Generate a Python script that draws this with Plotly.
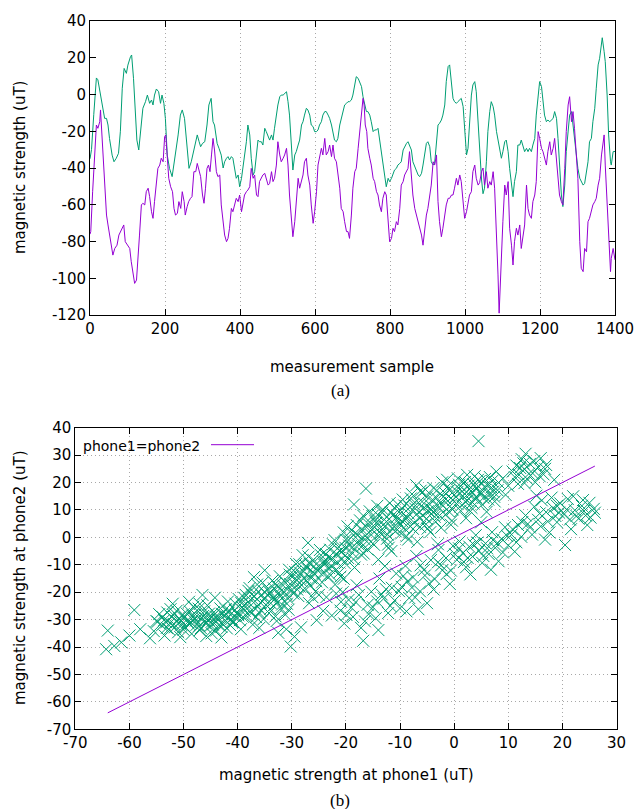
import plotly.graph_objects as go

# ---------------- (a) time series ----------------
green_x = [0,4,10,17,21,26,32,39,44,48,52,59,64,70,76,81,86,91,97,101,108,111,116,121,125,130,135,141,148,153,159,164,168,172,177,183,188,192,197,201,206,212,219,224,230,235,241,246,252,258,264,270,276,281,286,291,295,300,306,312,317,323,328,332,339,344,350,
           355,359,364,368,372,377,381,386,390,395,399,404,408,412,417,421,426,430,435,439,444,448,452,457,461,466,470,475,479,484,488,492,497,501,506,510,515,519,524,528,532,537,541,546,550,555,559,564,568,572,577,581,586,590,595,599,604,608,612,617,621,626,630,635,639,644,648,652,657,661,666,670,675,679,684,688,
           692,697,701,706,710,715,719,724,728,732,737,741,746,750,755,759,764,768,772,777,781,786,790,795,799,804,808,812,817,821,826,830,835,839,844,848,852,857,861,866,870,875,879,884,888,892,897,901,906,910,915,919,924,928,932,937,941,946,950,955,959,964,968,972,977,981,986,990,995,999,1004,1008,1012,1017,1021,1026,1030,1035,1039,1044,1048,
           1052,1057,1061,1066,1070,1075,1079,1084,1088,1092,1097,1101,1106,1110,1115,1119,1124,1128,1132,1137,1141,1146,1150,1155,1159,1164,1168,1172,1177,1181,1186,1190,1195,1199,1204,1208,1212,1217,1221,1226,1230,1235,1239,1244,1248,1252,1257,1261,1266,1270,1275,1279,1284,1288,1292,1297,1301,1306,1310,1315,1319,1324,1328,1332,1337,1341,1346,1350,1355,1359,1364,1366,1371,1374,1379,1383,1388,1390,1395,1400]
green_y = [-35,-30,-11,9,8,1.5,-5.7,-13,-13,-16.6,-23.9,-33,-36.6,-34.7,-32,-20,3.4,14.2,11.5,16,20.6,21.5,8.8,-11.2,-24.8,-30.2,-18.4,-7.5,-3.9,-0.3,-4.8,-3,-5.7,-0.3,3,1.5,-4.8,-0.3,-4.8,-13,-33,-40.2,-44.7,-38.4,-29.3,-22,-11.2,-8.4,-13,-25.7,-40.2,-36.6,-31.1,-26.6,-22,-25.7,-28.4,-26.6,-25.7,-16.6,-5.7,-2.1,-14.8,-16.6,-26.6,-29.3,-33,
           -40,-36.6,-34.7,-33.8,-35.6,-33.8,-34.7,-40.2,-45.6,-43.8,-50.2,-45.6,-40.2,-32.9,-25.7,-16.6,-22,-34.7,-43.8,-42,-32.9,-24.8,-25.7,-25.7,-27.5,-18.4,-20.2,-22.9,-24.8,-22,-24.8,-18.4,-11.2,-5.7,-1.2,-0.3,-0.3,0.6,1.5,-3.9,-11.2,-27.5,-41.1,-32.9,-31.1,-27.5,-24.8,-16.6,-14.8,-11.2,-7.5,-8.4,-11.2,-16.6,-17.5,-20.2,-20.2,-19.3,-16.6,-14.8,-11.2,-9.3,-9.3,-11.2,-13,-16.6,-20.2,-24.8,-25.7,-23.9,-16.6,-13,-9.3,-5.7,-4.8,-3.9,
           -3.9,-3,-0.3,4.3,9.7,8.8,7,4.3,-1.2,-5.7,-9.3,-9.3,-11.2,-14.8,-20.2,-19.3,-19.3,-18.4,-23.9,-31.1,-38.4,-45.6,-50.2,-45.6,-47.4,-45.6,-42.9,-41.1,-40.2,-38.4,-37.5,-36.6,-30.2,-28.4,-26.6,-25.7,-27.5,-30.2,-36.6,-39.3,-41.1,-43.8,-44.7,-42.9,-38.4,-32.9,-26.6,-25.7,-28.4,-36.6,-38.4,-37.5,-25.7,-16.6,-15.7,-13.9,-11.2,-5.7,7,15.2,16.1,7,-2.1,-3.9,-4.8,-3.9,-3,-2.1,-6.6,-16.6,-32.9,-29.3,-13,-0.3,5.2,7,1.5,-14.8,-32.9,-46,-54,
           -51,-36.6,-20.2,-9.3,-3.9,-6.6,-11.2,-20.2,-24.8,-29.3,-34.7,-31.1,-25.7,-24.8,-31.1,-40.2,-51,-55.6,-47.4,-42,-27.5,-27.5,-24.8,-28.4,-31.1,-29.3,-31.1,-29.3,-31.1,-27.5,-23.9,-11.2,1.5,7,4.3,-2.1,-11.2,-14.8,-13.9,-14.8,-13.9,-13,-9.3,-13,-23.9,-38.4,-54.7,-61,-49.3,-31.1,-18.4,-11.2,-9.3,-16.6,-25.7,-32.9,-40.2,-45.6,-47.4,-49.3,-48.4,-42,-36.6,-25.7,-23.9,-14.8,-7.5,3.4,16.1,19.7,28.8,30.9,23.3,17.9,-0.3,-22,-36.6,-38.4,-31.1,-31]

purple_x = [0,2,7,12,17,21,26,28,32,36,39,44,48,52,57,61,66,72,77,84,90,94,100,106,110,115,119,124,128,132,137,141,146,150,155,159,164,168,172,177,181,186,190,195,199,202,206,210,215,220,224,228,233,237,242,246,251,254,259,263,268,272,277,282,286,291,295,300,304,308,312,316,320,324,328,332,337,341,
            346,350,355,359,364,368,372,377,381,386,390,395,399,404,408,412,417,421,426,430,435,439,444,448,452,457,461,466,470,475,479,484,488,492,497,501,506,510,515,519,524,528,532,537,541,546,550,555,559,564,568,572,577,581,586,590,595,599,604,608,612,617,621,626,630,635,639,644,648,652,657,661,666,670,675,679,684,688,
            692,697,701,706,710,715,719,724,728,731,734,738,741,746,750,755,759,764,768,772,777,781,786,790,795,799,804,808,812,817,821,826,830,835,839,844,848,852,857,861,866,870,875,879,884,888,892,897,901,906,910,915,919,924,928,932,937,941,946,950,955,959,964,968,972,977,981,986,990,995,999,1004,1008,1012,1017,1021,1026,1030,1035,1039,1044,1048,
            1052,1057,1061,1066,1070,1075,1079,1084,1088,1091,1094,1097,1101,1106,1110,1115,1119,1124,1128,1132,1137,1141,1146,1150,1155,1159,1164,1168,1172,1177,1181,1186,1190,1195,1199,1204,1208,1212,1217,1221,1226,1230,1235,1239,1244,1248,1252,1257,1261,1266,1270,1275,1279,1284,1288,1292,1297,1301,1306,1310,1315,1319,1324,1328,1332,1337,1341,1346,1350,1355,1359,1364,1368,1371,1374,1379,1383,1388,1390,1395,1400]
purple_y = [-76,-74.6,-52.9,-32.9,-16.6,-18.4,-14.8,-8.4,-22,-34.7,-47.4,-65.6,-71,-76.5,-82,-87.4,-83.8,-82,-76.5,-73.7,-71,-80.1,-82,-83.8,-91,-98.2,-102.8,-101,-91,-76.5,-60.1,-59.2,-60.1,-52.9,-51,-55.6,-63.8,-67.4,-58.3,-45.6,-40.2,-38.4,-34.7,-36.6,-23,-22,-34.7,-45.6,-50.2,-52.9,-62,-65.6,-64.7,-58.3,-62,-52.9,-58.3,-65.6,-61.1,-58.3,-56.5,-55.6,-42,-42,-37.5,-42,-44.7,-54.7,-59.2,-51,-40.2,-38.4,-42,-32.9,-23.9,-30.2,-42,-44.7,
            -43.8,-60.1,-69.2,-76.5,-80.1,-78.3,-72.8,-62,-63.8,-60.1,-56.5,-58.3,-54.7,-63.8,-58.3,-54.7,-52.9,-52,-50.2,-40.2,-45.6,-43.8,-54.7,-55.6,-47.4,-45.6,-43.8,-42.9,-46.5,-49.3,-48.4,-42,-47.4,-45.6,-38.4,-25.7,-32.9,-36.6,-34.7,-32.9,-29.3,-38.4,-54.7,-65.6,-77.4,-69.2,-58.3,-45.6,-51,-47.4,-43.8,-36.6,-34.7,-43.8,-49.3,-60.1,-70.1,-63.8,-52.9,-38.4,-34.7,-29.3,-32.9,-23.9,-32.9,-31.1,-27.5,-33.8,-27.5,-34.7,-36.6,-42,-51,-62,-63.8,-69.2,-74.6,-74.6,
            -78.3,-65.6,-51,-42,-40.2,-29.3,-22,-11.2,-2.1,-5.7,-16.6,-20.2,-29.3,-34.7,-38.4,-45.6,-47.4,-52.9,-54.7,-60.1,-63.8,-56.5,-52.9,-54.7,-71,-80.1,-78.3,-72.8,-74.6,-69.2,-71,-62,-49.3,-47.4,-43.8,-42,-40.2,-31.1,-45.6,-54.7,-62,-65.6,-69.2,-72.8,-76.5,-82,-72.8,-65.6,-62,-54.7,-49.3,-36.6,-38.4,-32.9,-58.3,-69.2,-77.4,-72.8,-65.6,-60.1,-56.5,-56.5,-54.7,-54.7,-51,-45.6,-49.3,-43.8,-47.4,-56.5,-67.4,-63.8,-60.1,-54.7,-52.9,-42,-38.4,-45.6,-49.3,-48,-42,-40,
            -49.3,-42,-51,-47.4,-49.3,-42,-51,-74.6,-98.2,-119,-101.9,-92.8,-69.2,-49.3,-54.7,-47.4,-72.8,-82,-92.8,-80.1,-72.8,-76.5,-71,-83.8,-76.5,-71,-49.3,-62,-65.6,-67.4,-58.3,-54.7,-47.4,-20.2,-23.9,-29.3,-31.1,-34.7,-38.4,-31.1,-25.7,-32.9,-29.3,-23.9,-36.6,-45.6,-54.7,-58.3,-60.1,-40.2,-20.2,-5.7,-1.2,-14.8,-9.3,-18.4,-32.9,-45.6,-80.1,-94.6,-96.4,-83.8,-85.6,-69.2,-67.4,-63.8,-60.1,-58.3,-56.5,-49.3,-45.6,-32.9,-25.7,-22,-38.4,-58.3,-82,-96.4,-89.2,-83.8,-90]

top_x_ticks = [0, 200, 400, 600, 800, 1000, 1200, 1400]
top_y_ticks = [-120, -100, -80, -60, -40, -20, 0, 20, 40]

# ---------------- (b) scatter ----------------
phone1 = [-64.0,-64.3,-62.8,-61.5,-60.0,-59.1,-58.0,-56.2,-55.5,-55.0,
          -54.5,-54.0,-53.6,-53.0,-52.7,-52.2,-51.8,-51.3,-51.0,-50.5,-50.1,-49.7,-49.2,-48.8,-48.5,-48.0,-47.6,-47.2,-46.8,-46.4,-46.0,-45.6,-45.2,-44.8,-44.4,-44.0,-43.6,-43.2,-42.8,-42.4,-42.0,-41.6,-41.2,-40.8,-40.4,-40.0,-49.0,-47.0,-53.5,-50.6,-45.8,-43.0,-52.0,-44.2,-46.5,
          -39.6,-39.2,-38.8,-38.4,-38.0,-37.6,-37.2,-36.8,-36.4,-36.0,-35.6,-35.2,-34.8,-34.4,-34.0,-33.6,-33.2,-32.8,-32.4,-32.0,-31.6,-31.2,-30.8,-30.4,-30.0,-37.0,-35.0,-31.0,-30.2,-29.5,-28.3,-32.5,
          -29.6,-29.2,-28.8,-28.4,-28.0,-27.6,-27.2,-26.8,-26.4,-26.0,-25.6,-25.2,-24.8,-24.4,-24.0,-23.6,-23.2,-22.8,-22.4,-22.0,-21.6,-21.2,-20.8,-20.4,-20.0,-27.0,-24.2,-22.6,-25.4,
          -19.6,-19.2,-18.8,-18.4,-18.0,-17.6,-17.2,-16.8,-16.4,-16.0,-15.6,-15.2,-14.8,-14.4,-14.0,-13.6,-13.2,-12.8,-12.4,-12.0,-11.6,-11.2,-10.8,-10.4,-10.0,-16.3,-18.5,
          -21.8,-21.0,-20.3,-19.5,-18.7,-18.0,-17.2,-16.8,-16.0,-15.3,-14.5,-13.8,-13.0,-12.2,-11.5,-10.7,-10.0,-14.0,-12.8,
          -9.6,-9.2,-8.8,-8.4,-8.0,-7.6,-7.2,-6.8,-6.4,-6.0,-5.6,-5.2,-4.8,-4.4,-4.0,-3.6,-3.2,-2.8,-2.4,-2.0,-1.6,-1.2,-0.8,-0.4,0.0,-7.0,-3.0,
          -9.7,-9.0,-8.3,-7.6,-7.0,-6.3,-5.6,-5.0,-4.3,-3.6,-2.9,-2.2,-1.5,-0.8,-0.2,-6.6,-8.8,
          0.4,0.8,1.2,1.6,2.0,2.4,2.8,3.2,3.6,4.0,4.4,4.8,5.2,5.6,6.0,6.5,7.0,7.5,8.0,2.2,5.0,
          0.5,1.0,1.6,2.2,2.8,3.4,4.0,4.6,5.2,5.8,6.4,7.0,7.6,8.2,8.8,9.4,10.0,10.6,11.2,11.8,12.4,3.0,6.8,
          9.0,10.0,10.8,11.5,12.0,12.5,13.0,13.5,14.0,14.5,15.0,15.5,16.0,16.5,17.0,13.2,11.8,18.5,9.5,7.8,4.5,
          13.2,14.0,14.8,15.5,16.2,17.0,17.6,18.3,19.0,19.6,20.3,21.0,21.6,22.3,23.0,23.6,24.3,25.0,25.8,20.5,16.8,22.0,18.0,
          -53.2,-52.4,-51.6,-50.8,-50.0,-49.4,-48.6,-47.8,-47.0,-46.2,-45.4,-44.6,-43.8,-43.0,-42.2,-41.4,-40.6,-39.8,-39.0,-38.2,-37.4,-36.6,-35.8,-35.0,-34.2,-33.4,-32.6,-31.8,-31.0,-30.6,-29.8,-29.0,-28.2,-27.4,-26.6,-25.8,-25.0,-24.2,-23.4,-22.6,-21.8,-21.0,-20.2,-19.4,-18.6,-17.8,-17.0,-16.2,-15.4,-14.6,-13.8,-13.0,-12.2,-11.4,-10.6,-9.8,-9.0,-8.2,-7.4,-6.6,-5.8,-5.0,-4.2,-3.4,-2.6,-1.8,-1.0,-0.2,0.6,1.4,2.6,3.4,4.2,5.4,6.2,7.2,1.8,3.8,-2.2,-6.2,-11.0,-14.2,-20.6,-26.2,-33.0,-39.4,-44.8,-36.0,-41.8,-48.2,
          -19.0,-17.6,-15.8,-14.2,-12.6,-11.0,-9.4,-7.8,-6.2,-4.6,-3.0,-1.4,0.2,1.8,3.6,5.4,7.2,9.0,10.8,12.6,14.4,16.0,19.4,21.4,23.8,26.0,15.2,24.6,
          -54.8,-53.9,-53.1,-52.5,-51.9,-51.2,-50.4,-49.8,-49.0,-48.4,-47.7,-47.1,-46.6,-45.9,-45.3,-44.7,-44.1,-43.5,-42.9,-42.3,-41.7,-41.1,-40.5,-39.9,-39.3,-38.7,-38.1,-37.5,-36.9,-36.3,-35.7,-35.1,-34.5,-33.9,-33.3,-32.7,-32.1,-31.5,-30.9,-30.3,-29.7,-29.1,-28.5,-27.9,-27.3,-26.7,-26.1,-25.5,-24.9,-24.3,-23.7,-23.1,-22.5,-21.9,-21.3,-20.7,-20.1,-19.5,-18.9,-18.3,-17.7,-17.1,-16.5,-15.9,-15.3,-14.7,-14.1,-13.5,-12.9,-12.3,-11.7,-11.1,-10.5,-9.9,-9.3,-8.7,-8.1,-7.5,-6.9,-6.3,-5.7,-5.1,-4.5,-3.9,-3.3,-2.7,-2.1,-1.5,-0.9,-0.3,0.3,0.9,1.5,2.1,2.7,3.3,3.9,4.5,5.1,5.7,6.3,6.9,7.4,8.2,
          -20.9,-19.9,-18.2,-16.5,-15.0,-13.4,-11.8,-10.2,-8.6,-7.2,-5.4,-3.8,-2.4,-0.6,0.9,2.5,4.3,6.1,8.0,9.8,11.5,13.6,15.8,17.3,19.0,20.8,22.6,24.0,25.2,18.7,
          11.2,12.2,13.8,14.8,15.8,16.8,13.0,12.8,
          -38.5,-37.8,-36.2,-35.4,-34.0,-33.0,-32.2,-31.3,-30.5,-29.4,-28.6,-27.8,-26.9,-25.9,-24.6,-23.8,-22.9,-22.1,-21.1,-20.4,-19.7,-17.4,-15.1,-13.3,-11.9,-9.5,-7.8,-5.3,-3.8,-1.3,0.7,2.4,4.7,6.6,3.0,-0.6,-4.9,-8.5,-12.1,-16.7]
phone2 = [-34.0,-40.8,-39.6,-38.3,-35.8,-26.5,-33.5,-36.8,-34.2,-30.5,
          -28.0,-32.1,-30.2,-27.4,-33.5,-29.0,-31.6,-26.8,-34.6,-30.4,-28.2,-32.7,-30.9,-27.1,-35.2,-29.6,-31.9,-26.0,-33.1,-28.7,-30.5,-24.8,-32.4,-29.2,-27.3,-34.0,-30.1,-25.9,-31.5,-28.4,-33.2,-26.7,-29.8,-31.0,-24.2,-27.9,-23.5,-24.3,-35.8,-36.4,-36.0,-36.5,-24.2,-22.0,-21.0,
          -30.2,-25.4,-22.0,-28.6,-19.5,-26.9,-31.8,-23.3,-17.2,-27.5,-21.0,-29.8,-24.6,-19.0,-26.1,-15.8,-22.7,-30.5,-20.3,-25.9,-17.5,-28.2,-22.1,-13.6,-19.4,-14.5,-12.0,-33.5,-39.8,-36.2,-32.8,-34.8,
          -16.8,-9.7,-21.4,-13.0,-6.5,-18.6,-11.3,-24.0,-14.9,-8.2,-19.7,-12.1,-4.6,-16.4,-10.0,-21.8,-7.3,-13.8,-2.5,-17.2,-9.1,-12.8,-5.4,-15.1,-0.8,-2.0,-26.8,-28.5,-30.2,
          -7.5,2.1,-3.6,-11.0,4.5,-1.2,-6.3,7.9,0.6,-4.4,9.5,2.8,-2.7,5.3,-8.1,1.4,10.2,3.9,-0.5,6.7,-5.0,8.3,2.2,12.0,4.6,17.8,12.0,
          -20.5,-26.7,-31.4,-22.8,-29.0,-17.5,-33.0,-37.7,-24.6,-19.8,-29.5,-15.0,-22.3,-27.6,-18.4,-13.2,-25.9,-33.8,-10.5,
          5.9,11.6,0.4,8.7,14.2,3.1,10.5,-1.6,7.0,16.3,12.4,4.8,9.6,1.9,13.7,7.5,17.1,10.9,3.5,14.8,8.2,18.6,11.3,6.1,15.5,19.0,-2.5,
          -18.0,-10.4,-22.1,-14.6,-6.8,-19.7,-11.9,-24.0,-8.3,-15.2,-4.6,-12.0,-7.5,-17.0,-3.1,-26.2,-27.0,
          12.3,18.0,9.7,15.1,20.2,13.4,17.6,10.8,19.3,14.7,21.0,16.2,12.0,18.4,9.3,15.8,20.5,13.1,17.2,7.0,5.5,
          -8.2,-1.5,-5.7,-10.9,-3.4,-7.0,0.8,-4.9,-9.3,-2.2,-6.1,1.9,-3.8,-8.7,-0.6,3.7,-2.9,1.0,-5.2,4.5,0.2,-13.5,-11.8,
          21.5,18.8,24.0,26.2,22.8,28.5,24.9,21.3,26.8,23.4,20.1,25.6,28.9,23.0,26.4,30.5,19.5,21.0,15.5,24.0,35.1,
          8.0,3.6,11.2,6.4,13.5,9.2,1.8,10.7,5.5,12.4,8.4,14.0,3.0,9.9,6.8,11.5,8.0,12.6,10.4,-2.8,-0.8,15.0,14.5,
          -31.0,-26.2,-32.8,-29.5,-33.7,-27.8,-31.2,-28.1,-33.9,-27.0,-30.0,-31.8,-28.9,-32.6,-26.2,-32.0,-28.7,-22.5,-29.0,-24.7,-20.8,-29.1,-23.8,-19.9,-27.6,-21.9,-18.1,-24.5,-20.7,-26.4,-14.2,-19.0,-16.0,-10.4,-17.5,-13.3,-21.0,-8.9,-14.1,-10.6,-6.0,-14.3,-9.4,-3.0,-7.9,0.9,-3.2,3.7,-1.6,6.1,0.2,4.8,-2.6,3.1,7.4,1.4,6.8,11.0,5.4,12.7,8.0,14.9,10.2,5.7,12.6,16.4,9.5,13.6,16.6,11.8,15.9,12.7,17.8,14.4,19.0,16.7,19.9,22.3,20.1,17.0,10.8,11.5,-20.0,-21.8,-28.8,-33.5,-35.0,-33.0,-23.4,-25.3,
          -25.6,-21.0,-28.0,-23.4,-18.9,-23.0,-14.1,-18.3,-10.2,-16.8,-9.1,-13.4,-6.2,-9.0,-2.6,-6.8,-1.0,-5.5,3.0,5.6,1.0,4.0,9.0,6.5,13.6,9.0,15.2,4.5,
          -30.8,-29.0,-33.0,-31.2,-28.3,-30.6,-32.0,-29.2,-31.5,-28.5,-30.3,-32.2,-29.5,-31.4,-27.8,-30.6,-29.0,-32.0,-28.0,-30.3,-27.5,-30.8,-26.5,-28.4,-24.0,-26.8,-23.6,-27.7,-21.5,-25.2,-26.6,-22.6,-21.0,-24.0,-18.6,-23.9,-21.5,-19.9,-24.2,-17.0,-20.5,-15.5,-18.0,-12.4,-15.7,-9.6,-12.6,-16.0,-10.9,-13.0,-6.0,-11.2,-8.0,-12.0,-3.5,-7.8,-3.8,-1.0,-5.5,1.5,-2.5,3.0,-0.8,5.0,0.9,3.8,8.2,2.6,6.5,1.0,9.0,4.0,6.2,9.8,3.5,7.0,4.0,12.2,8.5,3.8,10.5,6.8,12.0,9.2,14.5,8.0,11.5,14.0,17.3,10.2,14.8,19.2,16.8,13.0,18.9,16.5,14.0,18.6,16.0,21.3,13.8,18.2,14.8,20.0,
          -23.5,-28.3,-23.6,-30.6,-25.5,-20.8,-25.0,-19.6,-16.0,-21.9,-13.9,-19.0,-10.2,-12.1,-4.0,-7.5,-1.9,-4.0,-2.0,0.5,-1.8,4.9,8.7,5.8,11.5,10.2,7.8,9.6,7.2,7.8,
          22.0,25.3,23.2,27.8,22.3,25.0,19.8,27.0,
          -21.0,-18.5,-19.8,-16.5,-20.2,-16.9,-14.2,-16.2,-11.8,-12.6,-9.8,-14.8,-7.0,-10.6,-6.5,-9.0,-4.5,-1.0,-5.0,1.8,4.0,6.2,7.8,9.0,12.5,13.8,15.8,17.5,18.0,21.0,21.5,22.8,20.5,22.0,9.5,4.6,3.2,-0.8,-3.8,-5.9]

equal_x = [-64, 26]
equal_y = [-64, 26]

bot_x_ticks = list(range(-70, 31, 10))
bot_y_ticks = list(range(-70, 41, 10))

GREEN = "#009e73"
PURPLE = "#9400d3"
FONT = "DejaVu Sans"
SERIF = "Liberation Serif"

fig = go.Figure()
fig.add_trace(go.Scatter(x=green_x, y=green_y, mode="lines", line=dict(color=GREEN, width=1),
                         xaxis="x", yaxis="y", showlegend=False))
fig.add_trace(go.Scatter(x=purple_x, y=purple_y, mode="lines", line=dict(color=PURPLE, width=1),
                         xaxis="x", yaxis="y", showlegend=False))
fig.add_trace(go.Scatter(x=phone1, y=phone2, mode="markers",
                         marker=dict(symbol="x-thin", size=12, color=GREEN,
                                     line=dict(color=GREEN, width=1)),
                         xaxis="x2", yaxis="y2", showlegend=False))
fig.add_trace(go.Scatter(x=equal_x, y=equal_y, mode="lines", line=dict(color=PURPLE, width=1),
                         xaxis="x2", yaxis="y2", showlegend=False))

axis_common = dict(showline=True, linecolor="black", linewidth=1, mirror="ticks",
                   ticks="inside", ticklen=6, tickcolor="black", zeroline=False,
                   automargin=False,
                   tickfont=dict(family=FONT, size=15, color="black"))
grid = dict(showgrid=True, gridcolor="#a8a8a8", griddash="1px,3px", gridwidth=1)

def labels(vals):
    return [str(v) for v in vals]

fig.update_layout(
    width=639, height=809,
    margin=dict(l=0, r=0, t=0, b=0, pad=0),
    paper_bgcolor="white", plot_bgcolor="white",
    showlegend=False,
    xaxis=dict(domain=[90/639, 615/639], range=[0, 1400], tickvals=top_x_ticks,
               ticktext=labels(top_x_ticks), anchor="y", **grid, **axis_common),
    yaxis=dict(domain=[494/809, 788/809], range=[-120, 40], tickvals=top_y_ticks,
               ticktext=labels(top_y_ticks), showgrid=False, anchor="x", **axis_common),
    xaxis2=dict(domain=[75.3/639, 616.5/639], range=[-70, 30], tickvals=bot_x_ticks,
                ticktext=labels(bot_x_ticks), anchor="y2", **grid, **axis_common),
    yaxis2=dict(domain=[79.7/809, 381.3/809], range=[-70, 40], tickvals=bot_y_ticks,
                ticktext=labels(bot_y_ticks), anchor="x2", **grid, **axis_common),
)

ann = [
    dict(text="magnetic strength (uT)", x=20/639, y=1-168/809, textangle=-90,
         font=dict(family=FONT, size=15, color="black")),
    dict(text="measurement sample", x=352/639, y=1-367/809,
         font=dict(family=FONT, size=15, color="black")),
    dict(text="(a)", x=340/639, y=1-390/809, font=dict(family=SERIF, size=17, color="black")),
    dict(text="magnetic strength at phone2 (uT)", x=20/639, y=1-578/809, textangle=-90,
         font=dict(family=FONT, size=15, color="black")),
    dict(text="magnetic strength at phone1 (uT)", x=346/639, y=1-775/809,
         font=dict(family=FONT, size=15, color="black")),
    dict(text="(b)", x=340/639, y=1-800/809, font=dict(family=SERIF, size=17, color="black")),
    dict(text="phone1=phone2", x=81/639, y=1-446/809, xanchor="left",
         font=dict(family=FONT, size=14, color="black")),
]
for a in ann:
    a.setdefault("xanchor", "center")
    a.update(xref="paper", yref="paper", yanchor="middle", showarrow=False)
fig.update_layout(annotations=ann)
fig.add_shape(type="line", xref="paper", yref="paper", x0=211/639, x1=254/639,
              y0=1-444.7/809, y1=1-444.7/809, line=dict(color=PURPLE, width=1))

fig.write_html("out.html", config={"displayModeBar": False},
               post_script="document.body.style.margin='0';document.body.style.padding='0';")
